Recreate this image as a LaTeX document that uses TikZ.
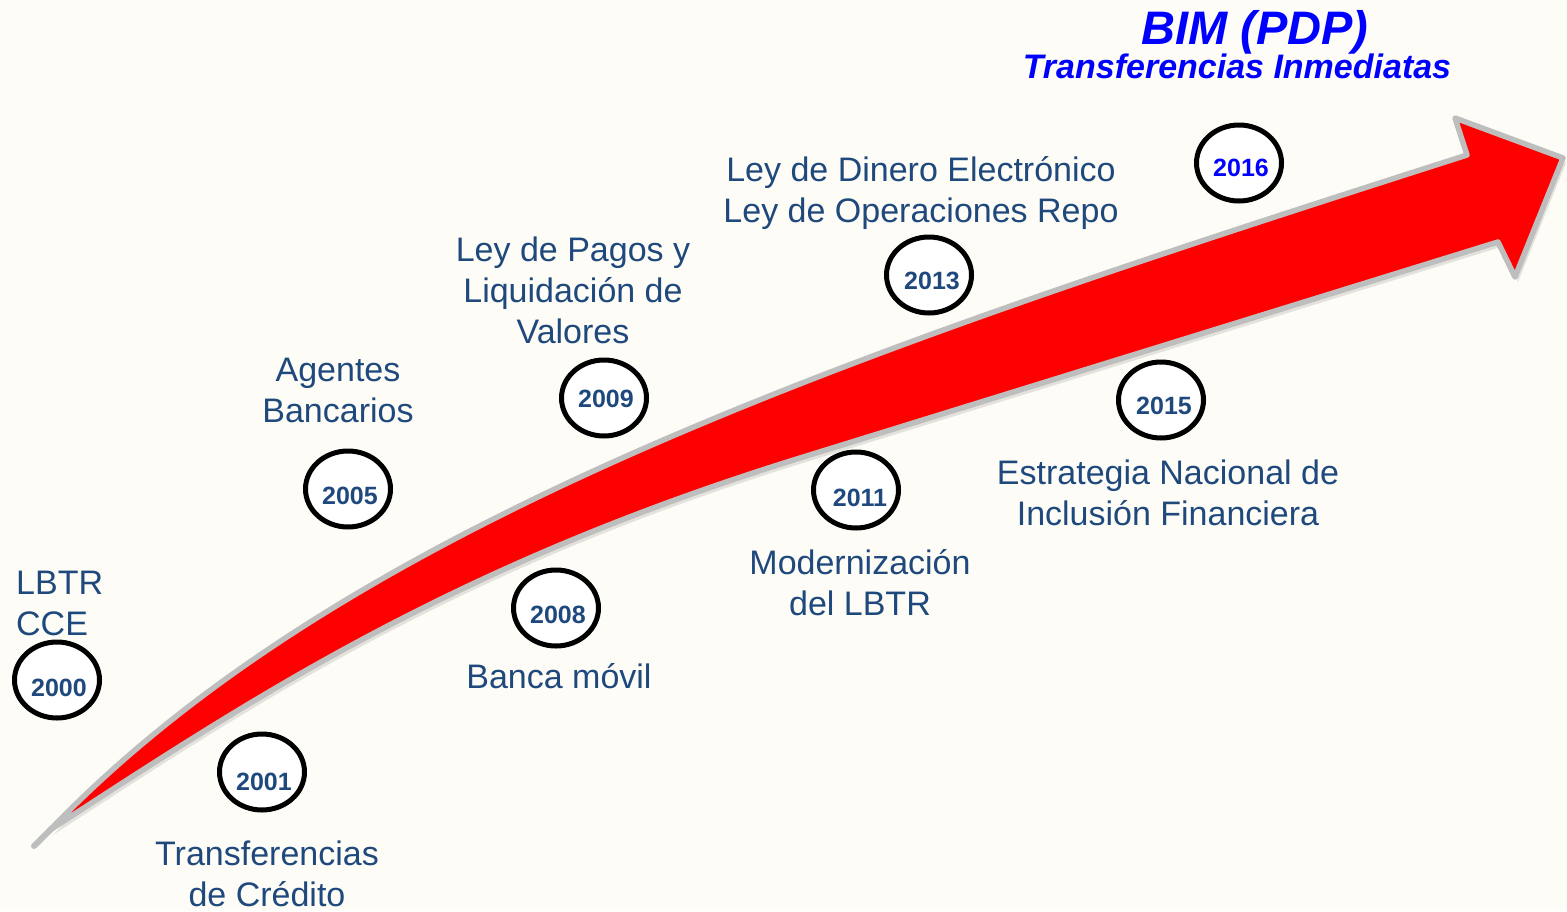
\documentclass[tikz,border=0pt]{standalone}
\usepackage{fontspec}
\setmainfont{Liberation Sans}
\usetikzlibrary{shapes.geometric,calc}
\definecolor{bg}{RGB}{253,252,247}
\definecolor{txt}{RGB}{31,73,125}
\definecolor{outl}{RGB}{190,190,190}
\definecolor{titleblue}{RGB}{0,0,255}
\begin{document}
\begin{tikzpicture}[x=1pt,y=-1pt,
  yearc/.style={ellipse,draw=black,fill=white,line width=5pt,minimum width=85pt,minimum height=76pt,inner sep=0pt},
  yeart/.style={font=\fontsize{25}{28}\selectfont\bfseries,text=txt,inner sep=0pt},
  lbl/.style={font=\fontsize{34}{41}\selectfont,text=txt,align=center,inner sep=0pt},
  ttl/.style={font=\bfseries\itshape,text=titleblue,inner sep=0pt}]
\fill[bg] (0,0) rectangle (1567,911);
\useasboundingbox (0,0) rectangle (1567,911);
\def\arrowpath{(50,830) .. controls (350,518) and (867,347) .. (1467,155) -- (1455,118) -- (1563,158) -- (1515,277) -- (1498,242) -- (800,458) .. controls (450,566.5) and (250,700) .. (50,830) -- cycle}
% shadow
\fill[black,opacity=0.10,shift={(3,5)}] \arrowpath;
% tail tip of the outline
\draw[outl,line width=6pt,line cap=round] (52,828) -- (34,846);
% arrow
\filldraw[fill=red,draw=outl,line width=5.5pt,line join=round] \arrowpath;
% circles
\node[yearc] (c2000) at (57,680) {};
\node[yeart] at ([shift={(2,8)}]c2000.center) {2000};
\node[yearc] (c2001) at (262,772) {};
\node[yeart] at ([shift={(2,10)}]c2001.center) {2001};
\node[yearc] (c2005) at (348,489) {};
\node[yeart] at ([shift={(2,7)}]c2005.center) {2005};
\node[yearc] (c2008) at (556,608) {};
\node[yeart] at ([shift={(2,7)}]c2008.center) {2008};
\node[yearc] (c2009) at (604,398) {};
\node[yeart] at ([shift={(2,1)}]c2009.center) {2009};
\node[yearc] (c2011) at (856,490) {};
\node[yeart] at ([shift={(4,8)}]c2011.center) {2011};
\node[yearc] (c2013) at (929,275) {};
\node[yeart] at ([shift={(3,6)}]c2013.center) {2013};
\node[yearc] (c2015) at (1161,400) {};
\node[yeart] at ([shift={(3,6)}]c2015.center) {2015};
\node[yearc] (c2016) at (1239,163) {};
\node[yeart,text=titleblue] at ([shift={(2,5)}]c2016.center) {2016};
% labels
\node[lbl,align=left,anchor=west] (lbtr) at (16,603) {LBTR\\CCE};
\node[lbl] (trc) at (267,874) {Transferencias\\de Crédito};
\node[lbl] (agb) at (338,390) {Agentes\\Bancarios};
\node[lbl] (lpl) at (573,290) {Ley de Pagos y\\Liquidación de\\Valores};
\node[lbl] (bmv) at (559,676) {Banca móvil};
\node[lbl] (lde) at (921,193) {Ley de Dinero Electrónico\\Ley de Operaciones Repo};
\node[lbl] (mod) at (860,583) {Modernización\\del LBTR};
\node[lbl] (eni) at (1168,493) {Estrategia Nacional de\\Inclusión Financiera};
% title
\node[ttl,font=\fontsize{47}{50}\selectfont\bfseries\itshape] (bim) at (1255,32) {BIM (PDP)};
\node[ttl,font=\fontsize{34}{38}\selectfont\bfseries\itshape] (tin) at (1237,66) {Transferencias Inmediatas};
\end{tikzpicture}
\end{document}
